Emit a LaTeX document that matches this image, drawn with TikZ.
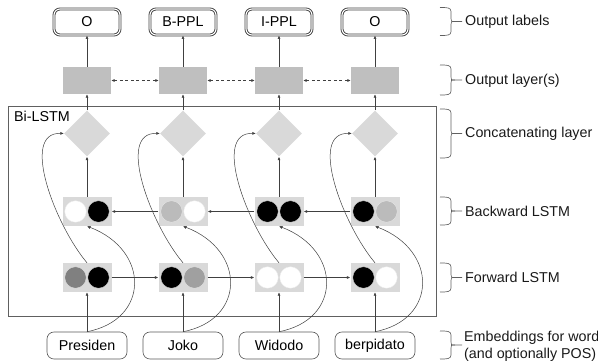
\documentclass[tikz,border=0pt]{standalone}
\usepackage{fontspec}
\setmainfont{Liberation Sans}
\usetikzlibrary{arrows.meta,shapes.geometric}
\definecolor{boxgray}{HTML}{D9D9D9}
\definecolor{outgray}{HTML}{BFBFBF}
\definecolor{lightcell}{HTML}{BBBBBB}
\definecolor{midcell}{HTML}{808080}
\definecolor{softcell}{HTML}{A0A0A0}
\definecolor{linegray}{HTML}{404040}
\definecolor{framegray}{HTML}{606060}
\newcommand\sidebrace[2]{%
  \draw[bracestyle] (440,#1) .. controls (447,#1) and (451,#1) .. (451,#1+4)
    -- (451,{(#1+#2)/2-3}) .. controls (451,{(#1+#2)/2}) .. (455,{(#1+#2)/2}) -- (462,{(#1+#2)/2});
  \draw[bracestyle] (440,#2) .. controls (447,#2) and (451,#2) .. (451,#2-4)
    -- (451,{(#1+#2)/2+3}) .. controls (451,{(#1+#2)/2}) .. (455,{(#1+#2)/2});
}
\begin{document}
\begin{tikzpicture}[x=1pt,y=-1pt,
  font=\fontsize{14.3}{17}\selectfont,
  labelbox/.style={draw=black!75, double=white, double distance=1.1pt, line width=0.9pt,
    rounded corners=6pt, minimum width=66pt, minimum height=26pt, inner sep=0pt},
  outbox/.style={fill=outgray, minimum width=48pt, minimum height=27pt, inner sep=0pt},
  concat/.style={diamond, fill=boxgray, minimum width=46pt, minimum height=46pt, inner sep=0pt},
  lstmbox/.style={fill=boxgray, minimum width=49pt, minimum height=29pt, inner sep=0pt},
  cell/.style={circle, draw=white!85!gray, line width=0.3pt, minimum size=21.5pt, inner sep=0pt},
  wordbox/.style={draw=black!65, line width=0.6pt, rounded corners=7pt, minimum width=80pt,
    minimum height=27pt, inner sep=0pt},
  arr/.style={draw=linegray, line width=0.55pt, -{Latex[length=3.5pt,width=3pt]}},
  dasharr/.style={draw=linegray, line width=0.55pt, dash pattern=on 3pt off 2.5pt,
    {Latex[length=3.5pt,width=3pt]}-{Latex[length=3.5pt,width=3pt]}},
  bracestyle/.style={draw=framegray, line width=0.65pt},
  side/.style={anchor=west, text=black!90, inner sep=0pt}
]
\useasboundingbox (0,0) rectangle (598,363);

% Bi-LSTM frame
\node[draw=framegray, line width=0.8pt, minimum width=428pt, minimum height=210pt, inner sep=0pt]
  (bilstm) at (222,211) {};
\node[anchor=west, inner sep=0pt] (bilabel) at (14,116.5) {Bi-LSTM};

\foreach \i/\x/\bl/\br/\fl/\fr/\w/\lab in {
  1/87/white/black/midcell/black/Presiden/O,
  2/183/lightcell/white/black/softcell/Joko/B-PPL,
  3/279/black/black/white/white/Widodo/I-PPL,
  4/375/black/lightcell/black/white/berpidato/O}{
  \node[labelbox] (L\i) at (\x,22) {\lab};
  \node[outbox] (O\i) at (\x,80.5) {};
  \node[concat] (D\i) at (\x,133.5) {};
  \node[lstmbox] (B\i) at (\x,211.5) {};
  \node[cell, fill=\bl] (Bl\i) at (\x-11.5,211.5) {};
  \node[cell, fill=\br] (Br\i) at (\x+11.5,211.5) {};
  \node[lstmbox] (F\i) at (\x,277.5) {};
  \node[cell, fill=\fl] (Fl\i) at (\x-11.5,277.5) {};
  \node[cell, fill=\fr] (Fr\i) at (\x+11.5,277.5) {};
  \node[wordbox] (W\i) at (\x,345.5) {\w};
  % vertical arrows
  \draw[arr] (W\i) -- (F\i);
  \draw[arr] (B\i) -- (D\i);
  \draw[arr] (D\i) -- (O\i);
  \draw[arr] (O\i) -- (L\i);
  % curved connections
  \draw[arr, line width=0.5pt] (F\i.north) .. controls +(-32,-38) and +(-44,-1.5) .. (D\i.west);
  \draw[arr, line width=0.5pt] (W\i.north) .. controls +(63,-12) and +(63,24) .. (B\i.south);
}

\foreach \i/\j in {1/2,2/3,3/4}{
  \draw[dasharr] (O\i.east) -- (O\j.west);
  \draw[arr] (B\j.west) -- (B\i.east);
  \draw[arr] (F\i.east) -- (F\j.west);
}

% side braces and labels
\sidebrace{7.5}{35.5}
\node[side] (t1) at (465,22) {Output labels};
\sidebrace{65}{95}
\node[side] (t2) at (465,80.5) {Output layer(s)};
\sidebrace{109}{158}
\node[side] (t3) at (465,133.5) {Concatenating layer};
\sidebrace{197}{225}
\node[side] (t4) at (465,211.5) {Backward LSTM};
\sidebrace{263}{292}
\node[side] (t5) at (465,277.5) {Forward LSTM};
\sidebrace{331}{359}
\node[side, align=left] (t6) at (464,346) {Embeddings for words\\(and optionally POS)};
\end{tikzpicture}
\end{document}
